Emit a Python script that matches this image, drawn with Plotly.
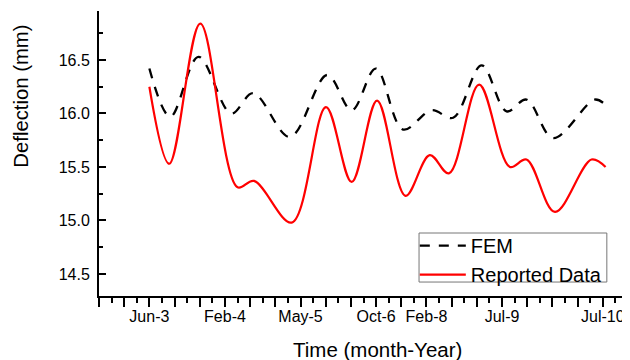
import plotly.graph_objects as go

# Time positions (in major-tick units along the time axis)
fem_x = [2.0, 2.83, 3.95, 5.25, 6.12, 7.58, 9.06, 10.03, 10.99, 12.07, 13.2, 14.06, 15.19, 16.18, 16.97, 18.03, 19.68, 20.11]
fem_y = [16.42, 15.97, 16.53, 16.00, 16.19, 15.78, 16.36, 16.03, 16.42, 15.85, 16.03, 15.96, 16.45, 16.02, 16.13, 15.77, 16.13, 16.08]

rep_x = [2.0, 2.79, 4.02, 5.50, 6.15, 7.65, 9.01, 10.03, 11.04, 12.17, 13.13, 13.89, 15.09, 16.31, 16.97, 18.10, 19.55, 20.11]
rep_y = [16.25, 15.53, 16.84, 15.31, 15.37, 14.98, 16.06, 15.36, 16.12, 15.23, 15.61, 15.44, 16.27, 15.50, 15.57, 15.08, 15.57, 15.50]

tick_pos = [2, 5, 8, 11, 13, 16, 20]
tick_labels = ["Jun-3", "Feb-4", "May-5", "Oct-6", "Feb-8", "Jul-9", "Jul-10"]

y_ticks = [14.5, 15.0, 15.5, 16.0, 16.5]

x_title = "Time (month-Year)"
y_title = "Deflection (mm)"

FONT = "Liberation Sans"

all_vals = list(range(0, 22))
all_text = [tick_labels[tick_pos.index(v)] if v in tick_pos else "" for v in all_vals]

fig = go.Figure()
fig.add_trace(go.Scatter(x=fem_x, y=fem_y, mode="lines", name="FEM",
                         line=dict(color="black", width=2.3, dash="10px,9px", shape="spline", smoothing=1.0)))
fig.add_trace(go.Scatter(x=rep_x, y=rep_y, mode="lines", name="Reported Data",
                         line=dict(color="#ff0000", width=2.2, shape="spline", smoothing=1.0)))

# legend frame
fig.add_shape(type="rect", xref="paper", yref="paper",
              x0=0.605, x1=0.960, y0=0.049, y1=0.221,
              line=dict(color="#777777", width=1), fillcolor="white", layer="below")

# axis titles
fig.add_annotation(text=x_title, xref="paper", yref="paper", x=0.527, y=-0.186,
                   xanchor="center", yanchor="middle", showarrow=False,
                   font=dict(size=20.5, family=FONT, color="black"))
fig.add_annotation(text=y_title, xref="paper", yref="paper", x=-0.149, y=0.700,
                   xanchor="center", yanchor="middle", showarrow=False, textangle=-90,
                   font=dict(size=20.3, family=FONT, color="black"))

fig.update_layout(
    width=630, height=360,
    margin=dict(l=91, r=10, t=3, b=72, autoexpand=False),
    paper_bgcolor="white", plot_bgcolor="white",
    font=dict(family=FONT, size=16, color="black"),
    showlegend=True,
    legend=dict(x=0.597, y=0.245, xanchor="left", yanchor="top",
                bgcolor="rgba(0,0,0,0)", borderwidth=0,
                font=dict(size=20, family=FONT), tracegroupgap=0,
                itemwidth=46),
    xaxis=dict(
        range=[0, 21], showgrid=False, zeroline=False, automargin=False,
        showline=True, linecolor="black", linewidth=2,
        ticks="outside", ticklen=9, tickwidth=1.5, tickcolor="black",
        ticklabelstandoff=-4,
        tickmode="array", tickvals=all_vals, ticktext=all_text,
        tickfont=dict(size=16, family=FONT),
        minor=dict(ticks="outside", ticklen=5, tickwidth=1.5, tickcolor="black", dtick=0.5, tick0=0),
    ),
    yaxis=dict(
        range=[14.294, 16.958], showgrid=False, zeroline=False, automargin=False,
        showline=True, linecolor="black", linewidth=2,
        ticks="inside", ticklen=7, tickwidth=1.5, tickcolor="black",
        ticklabelstandoff=4,
        tickmode="array", tickvals=y_ticks, ticktext=[f"{v:.1f}" for v in y_ticks],
        tickfont=dict(size=16, family=FONT),
        minor=dict(ticks="inside", ticklen=4, tickwidth=1.5, tickcolor="black", dtick=0.25, tick0=14.5),
    ),
)

fig.write_html("out.html")
